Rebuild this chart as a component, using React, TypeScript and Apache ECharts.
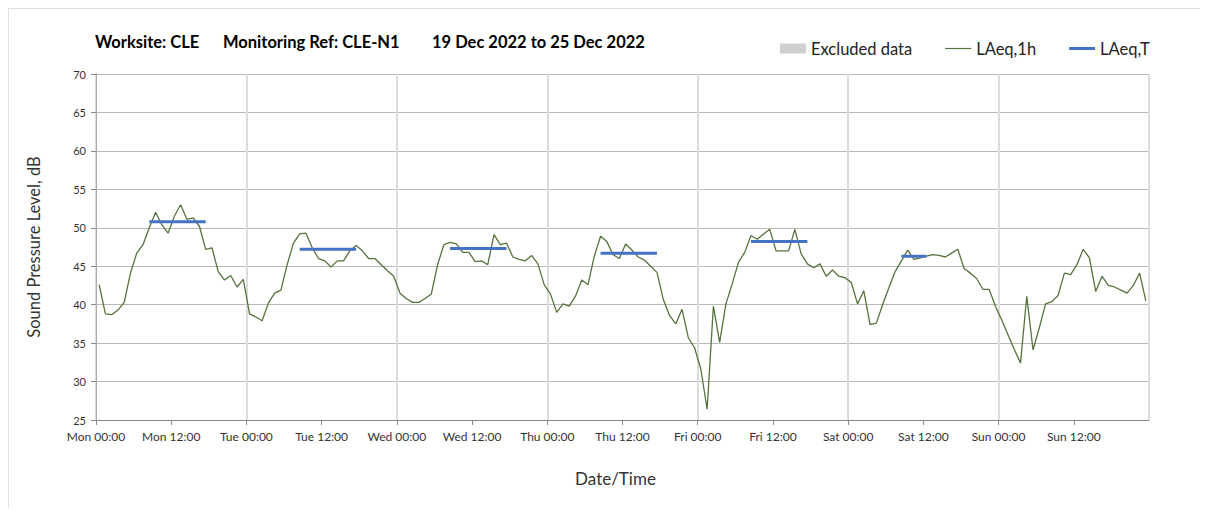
import React, { useEffect, useRef } from "react";
import * as echarts from "echarts";

const dayNames = ["Mon", "Tue", "Wed", "Thu", "Fri", "Sat", "Sun"];
const yTicks = { min: 25, max: 70, step: 5 };

// LAeq,1h hourly values, Mon 00:00 .. Sun 23:00
const laeq1h = [
  42.6, 38.8, 38.7, 39.3, 40.3, 44.1, 46.7, 47.8, 50.0, 52.0, 50.4, 49.3, 51.5, 53.0, 51.1, 51.3, 50.2, 47.2, 47.4, 44.3, 43.2, 43.8, 42.3, 43.3,
  38.8, 38.4, 37.9, 40.2, 41.5, 41.9, 45.2, 48.0, 49.2, 49.3, 47.4, 46.0, 45.7, 44.9, 45.7, 45.7, 47.0, 47.7, 47.0, 46.0, 46.0, 45.2, 44.4, 43.7,
  41.5, 40.8, 40.3, 40.3, 40.8, 41.4, 45.2, 47.8, 48.1, 47.9, 46.8, 46.8, 45.6, 45.7, 45.2, 49.1, 47.8, 48.0, 46.2, 45.9, 45.7, 46.4, 45.3, 42.6,
  41.4, 39.0, 40.1, 39.8, 41.1, 43.2, 42.6, 46.3, 48.9, 48.2, 46.5, 46.0, 47.9, 47.1, 46.2, 45.8, 45.0, 44.2, 40.7, 38.6, 37.5, 39.4, 35.7, 34.4,
  31.6, 26.4, 39.8, 35.1, 40.1, 42.7, 45.5, 46.8, 49.0, 48.5, 49.2, 49.8, 47.0, 47.0, 47.0, 49.8, 46.6, 45.3, 44.8, 45.3, 43.7, 44.5, 43.7, 43.5,
  42.9, 40.1, 41.8, 37.4, 37.6, 40.0, 42.2, 44.3, 45.7, 47.1, 45.9, 46.1, 46.3, 46.5, 46.4, 46.2, 46.7, 47.2, 44.7, 44.1, 43.4, 42.0, 42.0, 39.8,
  38.0, 36.1, 34.2, 32.4, 41.1, 34.1, 37.0, 40.1, 40.4, 41.2, 44.1, 43.9, 45.2, 47.2, 46.1, 41.7, 43.7, 42.5, 42.3, 41.9, 41.5, 42.5, 44.1, 40.5,
];

// LAeq,T daytime periods (hour index from Mon 00:00)
const laeqTStart = [8, 32, 56, 80, 104, 128];
const laeqTEnd = [17, 41, 65, 89, 113, 132];
const laeqTValue = [50.8, 47.2, 47.3, 46.7, 48.2, 46.3];

const titleParts = ["Worksite: CLE", "Monitoring Ref: CLE-N1", "19 Dec 2022 to 25 Dec 2022"];

const FONT = "Lato, 'Open Sans', sans-serif";
const LINE_GREEN = "#56733f";
const BLUE = "#4472c4";

export default function App() {
  const ref = useRef<HTMLDivElement>(null);

  useEffect(() => {
    if (!ref.current) return;
    const chart = echarts.init(ref.current, undefined, { renderer: "svg" });

    const segSeries = laeqTStart.map((s, k) => ({
      name: "LAeq,T",
      type: "line",
      xAxisIndex: 0,
      yAxisIndex: 0,
      symbol: "none",
      data: [
        [s + 0.5, laeqTValue[k]],
        [laeqTEnd[k] + 0.5, laeqTValue[k]],
      ],
      lineStyle: { color: BLUE, width: 3 },
      itemStyle: { color: BLUE },
      z: 5,
    }));

    const tFont = `bold 16.5px ${FONT}`;

    chart.setOption({
      animation: false,
      textStyle: { fontFamily: FONT },
      graphic: [
        { type: "text", left: 86, top: 24, style: { text: titleParts[0], font: tFont, fill: "#000" } },
        { type: "text", left: 214, top: 24, style: { text: titleParts[1], font: tFont, fill: "#000" } },
        { type: "text", left: 423, top: 24, style: { text: titleParts[2], font: tFont, fill: "#000" } },
      ],
      legend: {
        left: 766,
        top: 26,
        itemGap: 33,
        itemWidth: 26,
        itemHeight: 10,
        symbolKeepAspect: true,
        textStyle: { fontSize: 16.5, color: "#222", fontFamily: FONT },
        data: [
          { name: "Excluded data", icon: "rect", itemStyle: { color: "#d0d0d0" } },
          { name: "LAeq,1h", icon: "path://M0,0 H26 V1.2 H0 Z", itemStyle: { color: LINE_GREEN } },
          { name: "LAeq,T", icon: "path://M0,0 H26 V3 H0 Z", itemStyle: { color: BLUE } },
        ],
      },
      grid: { left: 87, right: 51, top: 65, bottom: 88, containLabel: false },
      xAxis: [
        {
          type: "value",
          min: 0,
          max: 168,
          interval: 12,
          name: "Date/Time",
          nameLocation: "middle",
          nameGap: 50,
          nameTextStyle: { fontSize: 17, color: "#333", fontFamily: FONT, padding: [0, 14, 0, 0] },
          axisLine: { show: true, lineStyle: { color: "#888", width: 1 } },
          axisTick: { show: true, length: 5, lineStyle: { color: "#888" } },
          axisLabel: {
            fontSize: 12,
            color: "#333",
            margin: 10,
            showMaxLabel: false,
            formatter: (v: number) => {
              const d = Math.floor(v / 24);
              if (d >= dayNames.length) return "";
              return `${dayNames[d]} ${v % 24 === 0 ? "00:00" : "12:00"}`;
            },
          },
          splitLine: { show: false },
        },
        {
          type: "value",
          min: 0,
          max: 168,
          interval: 24,
          position: "bottom",
          axisLine: { show: false },
          axisTick: { show: false },
          axisLabel: { show: false },
          splitLine: { show: true, lineStyle: { color: "#dcdcdc", width: 2 } },
        },
      ],
      yAxis: [
        {
          type: "value",
          min: yTicks.min,
          max: yTicks.max,
          interval: yTicks.step,
          name: "Sound Pressure Level, dB",
          nameLocation: "middle",
          nameGap: 54,
          nameTextStyle: { fontSize: 16.5, color: "#333", fontFamily: FONT },
          axisLine: { show: true, lineStyle: { color: "#888" } },
          axisTick: { show: true, length: 5, lineStyle: { color: "#888" } },
          axisLabel: { fontSize: 11, color: "#333", margin: 10 },
          splitLine: { show: true, lineStyle: { color: "#b8b8b8", width: 1 } },
        },
        {
          type: "value",
          min: yTicks.min,
          max: yTicks.max,
          interval: yTicks.step,
          position: "right",
          axisLine: { show: true, lineStyle: { color: "#aaa" } },
          axisTick: { show: false },
          axisLabel: { show: false },
          splitLine: { show: false },
        },
      ],
      series: [
        {
          name: "Excluded data",
          type: "bar",
          xAxisIndex: 0,
          yAxisIndex: 0,
          data: [],
          itemStyle: { color: "#d0d0d0" },
        },
        {
          name: "LAeq,1h",
          type: "line",
          xAxisIndex: 0,
          yAxisIndex: 0,
          symbol: "none",
          data: laeq1h.map((v, i) => [i + 0.5, v]),
          lineStyle: { color: LINE_GREEN, width: 1.3 },
          itemStyle: { color: LINE_GREEN },
          z: 4,
        },
        ...segSeries,
      ],
    });

    return () => chart.dispose();
  }, []);

  return (
    <div style={{ borderLeft: "1px solid #e0e0e0", borderTop: "1px solid #e0e0e0", width: 1191, height: 499 }}>
      <div ref={ref} style={{ width: 1191, height: 499 }} />
    </div>
  );
}
